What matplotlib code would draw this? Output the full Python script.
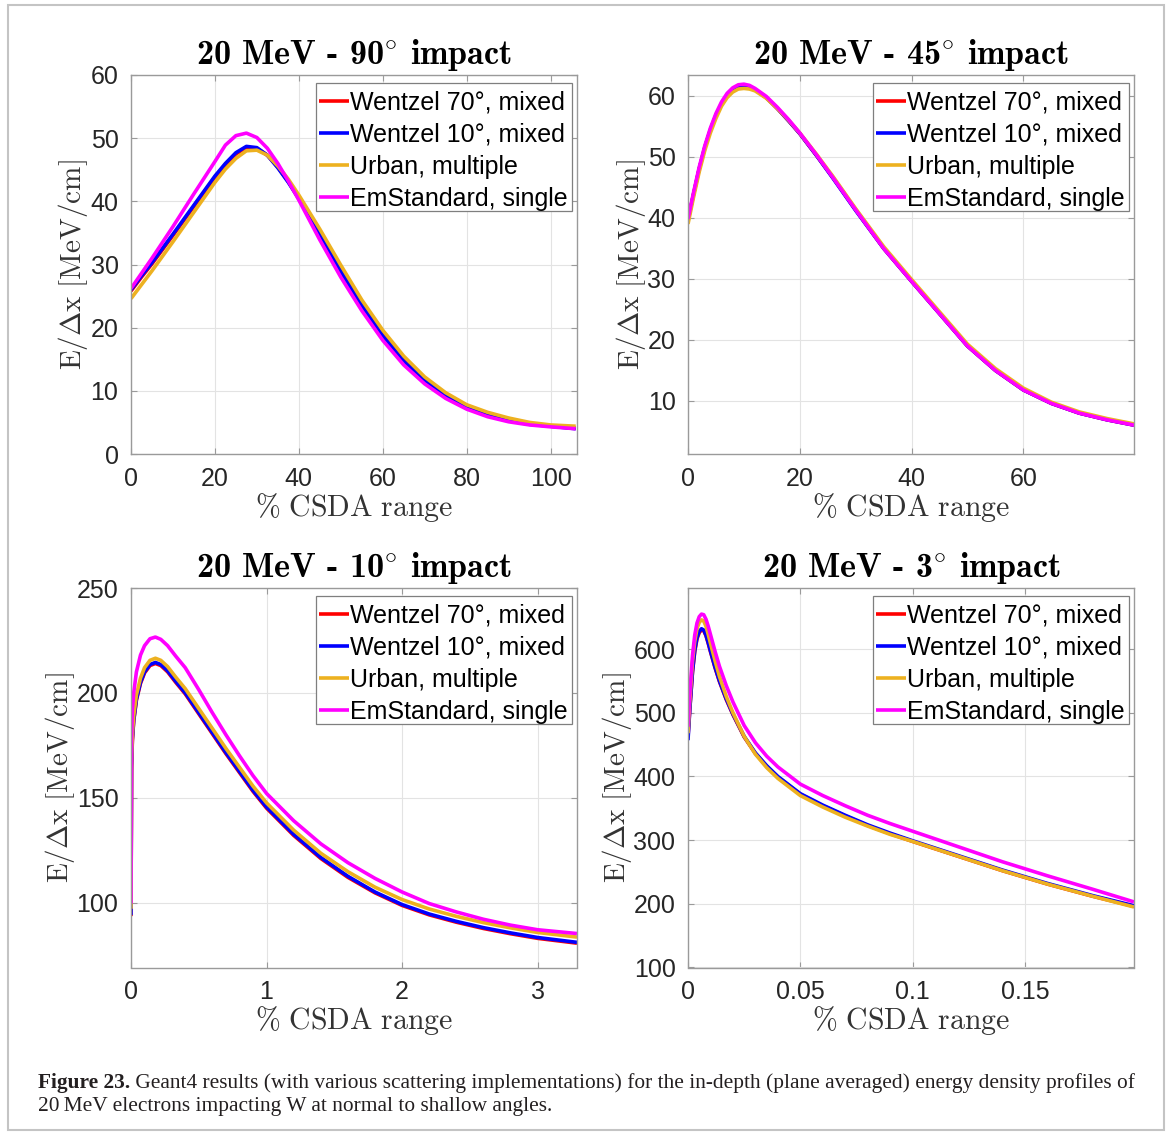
import numpy as np
import matplotlib
matplotlib.use("Agg")
import matplotlib.pyplot as plt
from matplotlib.patches import Rectangle

# --- data ---------------------------------------------------------------------
LABELS = ["Wentzel 70°, mixed", "Wentzel 10°, mixed", "Urban, multiple", "EmStandard, single"]

# 90 deg impact
X_90 = [0, 2.5, 5, 10, 15, 20, 22.5, 25, 27.5, 30, 32.5, 35, 37.5, 40, 45, 50, 55, 60, 65, 70, 75, 80, 85, 90, 95, 100, 106]
W70_90 = [25.8, 28.0, 30.1, 34.6, 39.2, 43.8, 45.8, 47.5, 48.5, 48.4, 47.3, 45.4, 43.1, 40.5, 34.9, 29.1, 23.7, 18.9, 14.9, 11.8, 9.4, 7.6, 6.3, 5.4, 4.8, 4.4, 4.1]
W10_90 = [26.0, 28.2, 30.3, 34.8, 39.4, 44.0, 46.0, 47.7, 48.7, 48.5, 47.3, 45.3, 43.0, 40.4, 34.7, 28.9, 23.5, 18.7, 14.7, 11.6, 9.2, 7.5, 6.2, 5.3, 4.7, 4.4, 4.0]
URB_90 = [24.6, 26.8, 29.0, 33.6, 38.3, 43.0, 45.1, 46.8, 48.0, 48.1, 47.3, 45.6, 43.5, 41.0, 35.6, 29.9, 24.4, 19.6, 15.5, 12.2, 9.7, 7.8, 6.6, 5.7, 5.0, 4.6, 4.4]
EMS_90 = [26.2, 28.6, 31.0, 36.0, 41.2, 46.3, 48.9, 50.4, 50.8, 50.1, 48.4, 46.0, 43.2, 40.2, 33.9, 28.0, 22.7, 18.0, 14.1, 11.1, 8.8, 7.1, 5.9, 5.1, 4.6, 4.3, 4.0]

# 45 deg impact
X_45 = [0, 1, 2, 3, 4, 5, 6, 7, 8, 9, 10, 11, 12, 14, 16, 18, 20, 23, 26, 30, 35, 40, 45, 50, 55, 60, 65, 70, 75, 80]
W70_45 = [39.6, 43.9, 48.0, 51.5, 54.4, 56.8, 58.7, 60.1, 61.0, 61.5, 61.6, 61.4, 61.0, 59.7, 57.9, 55.9, 53.8, 50.2, 46.5, 41.3, 35.0, 29.6, 24.3, 19.0, 15.0, 11.8, 9.6, 8.0, 6.9, 6.0]
W10_45 = [39.6, 43.9, 48.0, 51.5, 54.4, 56.8, 58.7, 60.1, 61.0, 61.5, 61.6, 61.4, 61.0, 59.7, 57.9, 55.9, 53.8, 50.2, 46.4, 41.2, 35.0, 29.6, 24.3, 19.0, 15.0, 11.8, 9.6, 8.0, 6.9, 6.0]
URB_45 = [39.0, 43.4, 47.5, 51.0, 53.9, 56.3, 58.3, 59.7, 60.6, 61.1, 61.2, 61.1, 60.8, 59.6, 57.9, 56.0, 53.9, 50.4, 46.7, 41.5, 35.3, 29.9, 24.6, 19.3, 15.3, 12.1, 9.8, 8.2, 7.1, 6.2]
EMS_45 = [39.8, 44.2, 48.3, 51.8, 54.7, 57.1, 59.0, 60.4, 61.3, 61.8, 61.9, 61.7, 61.2, 59.9, 58.1, 56.1, 53.9, 50.3, 46.5, 41.3, 35.0, 29.6, 24.3, 19.0, 15.0, 11.8, 9.6, 8.0, 6.9, 6.0]

# 10 deg impact
X_10 = [0, 0.004, 0.01, 0.02, 0.04, 0.07, 0.1, 0.14, 0.18, 0.22, 0.27, 0.33, 0.4, 0.5, 0.6, 0.7, 0.8, 0.9, 1.0, 1.2, 1.4, 1.6, 1.8, 2.0, 2.2, 2.4, 2.6, 2.8, 3.0, 3.29]
W70_10 = [93.5, 163, 177, 186.5, 196.5, 204.5, 209.5, 213, 214, 213, 210, 205, 199.5, 190, 180.5, 171, 162, 153, 145, 132, 121, 112, 104.6, 98.6, 94.1, 90.6, 87.6, 85.1, 82.9, 80.6]
W10_10 = [94, 165, 178, 187, 197, 205, 210, 213.5, 214.5, 213.5, 210.5, 205.5, 200, 190.5, 181, 171.5, 162.5, 153.5, 145.5, 132.5, 121.5, 112.5, 105, 99, 94.5, 91, 88, 85.5, 83.3, 81.0]
URB_10 = [97, 168, 180, 189, 199, 207, 212, 215.5, 216.5, 215.5, 212.5, 207.5, 202, 192.5, 183, 173.5, 164.5, 155.5, 147.5, 134.5, 123.5, 114.7, 107.3, 101.4, 96.9, 93.4, 90.4, 87.9, 85.7, 83.5]
EMS_10 = [99.5, 179, 192, 200, 210, 218, 222.5, 225.8, 226.6, 225.5, 222.5, 217.5, 212, 201.5, 190.5, 180, 170, 160.5, 152, 139, 128, 119, 111.5, 105, 99.5, 95.5, 92, 89.2, 87, 85.2]

# 3 deg impact
X_3 = [0, 0.0008, 0.002, 0.003, 0.004, 0.005, 0.006, 0.007, 0.008, 0.009, 0.010, 0.012, 0.014, 0.017, 0.020, 0.025, 0.030, 0.035, 0.040, 0.050, 0.060, 0.070, 0.080, 0.090, 0.100, 0.120, 0.140, 0.160, 0.180, 0.1985]
W70_3 = [462, 506, 564, 596, 616, 626, 630, 629, 621, 609, 596, 571, 549, 521, 497, 462, 436, 416, 399, 372, 354, 338, 323, 310, 298, 275, 252, 231, 212, 196]
W10_3 = [457, 505, 565, 598, 618, 628, 632, 630, 622, 610, 597, 572, 550, 522, 498, 463, 437, 417, 400, 373, 355, 339, 324, 311, 299, 276, 253, 232, 213, 197]
URB_3 = [468, 518, 580, 612, 632, 642, 646, 644, 636, 623, 609, 582, 557, 526, 500, 463, 435, 414, 397, 370, 352, 336, 322, 309, 298, 275, 252, 231, 212, 195]
EMS_3 = [478, 530, 590, 622, 641, 651, 655, 654, 647, 636, 623, 597, 573, 543, 517, 480, 453, 432, 415, 388, 370, 354, 339, 326, 314, 290, 266, 244, 223, 203]

COLORS = ["#ff0000", "#0000ff", "#edb120", "#ff00ff"]

CAPTION_1 = ("Geant4 results (with various scattering implementations) for the in-depth "
             "(plane averaged) energy density profiles of")
CAPTION_2 = "20\u2009MeV electrons impacting W at normal to shallow angles."

W, H = 1171, 1135

plt.rcParams["font.family"] = ["Liberation Sans", "DejaVu Sans"]
plt.rcParams["mathtext.fontset"] = "cm"


def draw_panel(ax, x, series, title, xlim, ylim, xticks, yticks, xticklabels=None):
    for y, lab, col in zip(series, LABELS, COLORS):
        ax.plot(x, y, color=col, lw=2.6, label=lab, solid_capstyle="butt")

    ax.set_xlim(xlim)
    ax.set_ylim(ylim)
    ax.set_xticks(xticks)
    if xticklabels is not None:
        ax.set_xticklabels(xticklabels)
    ax.set_yticks(yticks)

    ax.grid(True, color="#e3e3e3", lw=0.8)
    ax.set_axisbelow(True)
    for sp in ax.spines.values():
        sp.set_color("#9a9a9a")
        sp.set_linewidth(1.0)
    ax.tick_params(direction="in", top=True, right=True, length=4, width=0.8,
                   color="#9a9a9a", labelsize=18, labelcolor="#262626", pad=9)

    # bold computer-modern title, degree sign through mathtext
    ax.set_title("20 MeV - " + title + r"$^{\circ}$ impact", fontfamily="cmb10",
                 fontsize=24.5, pad=8)
    ax.set_xlabel(r"$\%\ \mathrm{CSDA\ range}$", fontsize=21.5, color="#333333", labelpad=0)
    ax.set_ylabel(r"$\mathrm{E}/\Delta\mathrm{x}\ [\mathrm{MeV}/\mathrm{cm}]$", fontsize=21,
                  color="#333333", labelpad=0)

    # frame is drawn separately later (matlab puts the entries a bit lower in the box)
    dy = 6.5 / (ax.get_position().height * H)
    leg = ax.legend(loc="upper right", bbox_to_anchor=(1, 1 - dy), fontsize=18, frameon=False,
                    borderpad=0.15, labelspacing=0.32,
                    handlelength=1.2, handletextpad=0.05, borderaxespad=0.22)
    return leg


fig = plt.figure(figsize=(W / 100, H / 100), dpi=100)

ax_l, ax_r = 131 / W, 688 / W
aw = 446 / W
top_b, top_h = 1 - 454 / H, (454 - 75) / H
bot_b, bot_h = 1 - 967.5 / H, (967.5 - 588) / H

ax1 = fig.add_axes([ax_l, top_b, aw, top_h])
ax2 = fig.add_axes([ax_r, top_b, aw, top_h])
ax3 = fig.add_axes([ax_l, bot_b, aw, bot_h])
ax4 = fig.add_axes([ax_r, bot_b, aw, bot_h])

legends = []
legends.append(draw_panel(ax1, X_90, [W70_90, W10_90, URB_90, EMS_90], "90", (0, 106.3), (0, 60),
                          [0, 20, 40, 60, 80, 100], [0, 10, 20, 30, 40, 50, 60]))
legends.append(draw_panel(ax2, X_45, [W70_45, W10_45, URB_45, EMS_45], "45", (0, 79.8), (1.3, 63.4),
                          [0, 20, 40, 60], [10, 20, 30, 40, 50, 60]))
legends.append(draw_panel(ax3, X_10, [W70_10, W10_10, URB_10, EMS_10], "10", (0, 3.29), (69, 250),
                          [0, 1, 2, 3], [100, 150, 200, 250]))
legends.append(draw_panel(ax4, X_3, [W70_3, W10_3, URB_3, EMS_3], "3", (0, 0.1985), (100, 696),
                          [0, 0.05, 0.1, 0.15], [100, 200, 300, 400, 500, 600],
                          xticklabels=["0", "0.05", "0.1", "0.15"]))

fig.canvas.draw()
renderer = fig.canvas.get_renderer()

# legend frames, in pixels: tight on the sides, taller above the first entry
for ax, leg in zip([ax1, ax2, ax3, ax4], legends):
    bb = leg.get_window_extent(renderer)
    ab = ax.get_window_extent(renderer)
    x0, x1 = bb.x0 + 1, ab.x1 - 5
    y0, y1 = bb.y0 + 3.5, ab.y1 - 7.5
    frame = Rectangle((x0, y0), x1 - x0, y1 - y0, transform=None, fill=True,
                      facecolor="white", edgecolor="#7f7f7f", lw=0.9, zorder=4.5)
    ax.add_artist(frame)
    frame.set_clip_on(False)
    leg.set_zorder(5)

# caption
cap_font = dict(family=["Liberation Serif", "DejaVu Serif"], size=15.4, color="#231f20")
t1 = fig.text(38 / W, 1 - 1088 / H, "Figure 23.", weight="bold", **cap_font)
bb = t1.get_window_extent(renderer)
fig.text(bb.x1 / W, 1 - 1088 / H, " " + CAPTION_1, **cap_font)
fig.text(38 / W, 1 - 1111 / H, CAPTION_2, **cap_font)

# outer frame
fig.patches.append(Rectangle((8 / W, 5 / H), (1164 - 8) / W, (1130 - 5) / H, transform=fig.transFigure,
                             fill=False, edgecolor="#c4c4c4", lw=1.5))

fig.savefig("out.png", dpi=100)
plt.close(fig)
